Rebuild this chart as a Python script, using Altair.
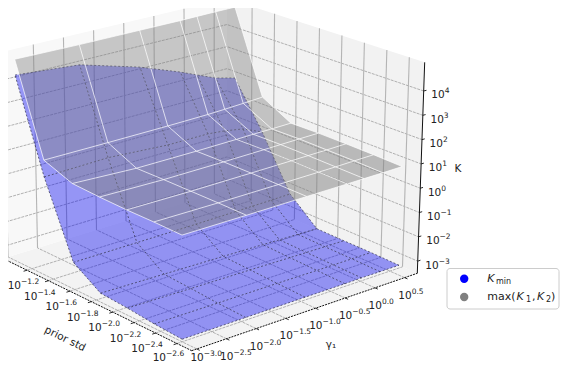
import altair as alt
import pandas as pd

# ---------- values ----------
gamma_grid = [-3.09, -2.02, -1.02, -0.35, -0.07, 0.24, 0.56]   # log10 gamma1
std_grid = [-2.65, -2.39, -2.14, -1.89, -1.64, -1.38, -1.13]   # log10 prior std

k_min = [  # log10 K_min, one row per std_grid entry
    [-3.24, -3.23, -3.22, -3.22, -3.21, -3.21, -3.21],
    [-3.17, -3.18, -3.18, -3.19, -3.19, -3.19, -3.19],
    [-3.06, -3.10, -3.13, -3.16, -3.17, -3.18, -3.19],
    [-2.98, -3.03, -3.08, -3.12, -3.14, -3.16, -3.18],
    [-2.26, -2.25, -2.24, -2.22, -2.21, -2.20, -2.18],
    [0.70, 0.77, 0.61, 0.61, 0.54, 0.40, 0.03],
    [4.49, 4.26, 3.52, 2.86, 2.54, 2.19, 1.97],
]
k_max = [  # log10 max(K1, K2)
    [0.63, 0.68, 0.74, 0.78, 0.80, 0.82, 0.85],
    [0.69, 0.72, 0.77, 0.81, 0.83, 0.86, 0.89],
    [0.73, 0.75, 0.80, 0.84, 0.86, 0.88, 0.91],
    [0.80, 0.78, 0.82, 0.86, 0.88, 0.90, 0.92],
    [0.90, 0.80, 0.82, 0.85, 0.87, 0.88, 0.90],
    [1.39, 1.40, 1.42, 1.45, 1.48, 1.52, 1.57],
    [5.15, 5.12, 5.12, 5.12, 5.13, 5.14, 5.14],
]
gamma_ticks = [-3.0, -2.5, -2.0, -1.5, -1.0, -0.5, 0.0, 0.5]
std_ticks = [-1.2, -1.4, -1.6, -1.8, -2.0, -2.2, -2.4, -2.6]
k_ticks = [-3, -2, -1, 0, 1, 2, 3, 4]

# ---------- 3D box projection (box corners on the page) ----------
CORNERS = {
    (0, 0, 0): (191.7, 350.7), (1, 0, 0): (417.3, 273.3),
    (0, 1, 0): (3.0, 258.5), (1, 1, 0): (227.0, 190.0),
    (0, 0, 1): (191.7, 115.7), (1, 0, 1): (424.7, 62.3),
    (0, 1, 1): (-2.0, 53.0), (1, 1, 1): (227.0, -1.5),
}


def fa(g):
    return (g + 3.086) * 0.2632


def fb(s):
    return (s + 2.737) * 0.568


def fc(z):
    return (z + 3.5) / 8.68


def proj(a, b, c):
    x = y = 0.0
    for (i, j, k), (px, py) in CORNERS.items():
        w = (a if i else 1 - a) * (b if j else 1 - b) * (c if k else 1 - c)
        x += w * px
        y += w * py
    return x, y


def rows_of(lines):
    rows = []
    for n, pts in enumerate(lines):
        for v, p in enumerate(pts):
            x, y = proj(*p)
            rows.append({"id": n, "v": v, "x": x, "y": y})
    return pd.DataFrame(rows)


xs = alt.Scale(domain=[8, 560], nice=False, zero=False)
ys = alt.Scale(domain=[362, 8], nice=False, zero=False)
X = alt.X("x:Q", scale=xs, axis=None)
Y = alt.Y("y:Q", scale=ys, axis=None)


def lines(ls, **mk):
    return alt.Chart(rows_of(ls)).mark_line(**mk).encode(X, Y, detail="id:N", order="v:Q")


def polys(ls, color, opacity):
    return lines(ls, interpolate="linear-closed", fill=color, fillOpacity=opacity,
                 stroke=color, strokeOpacity=0, strokeWidth=0)


def cells(grid, rows):
    out = []
    for j in rows:
        for i in range(len(gamma_grid) - 1):
            out.append([
                (fa(gamma_grid[i + p]), fb(std_grid[j + q]), fc(grid[j + q][i + p]))
                for p, q in [(0, 0), (1, 0), (1, 1), (0, 1)]
            ])
    return out


def wires(grid):
    out = []
    for j, s in enumerate(std_grid):
        out.append([(fa(g), fb(s), fc(grid[j][i])) for i, g in enumerate(gamma_grid)])
    for i, g in enumerate(gamma_grid):
        out.append([(fa(g), fb(s), fc(grid[j][i])) for j, s in enumerate(std_grid)])
    return out


layers = []
# panes
layers.append(polys([[(0, 0, 0), (1, 0, 0), (1, 1, 0), (0, 1, 0)]], "#f3f3f3", 1))
layers.append(polys([[(0, 1, 0), (1, 1, 0), (1, 1, 1), (0, 1, 1)]], "#f8f8f8", 1))
layers.append(polys([[(1, 0, 0), (1, 1, 0), (1, 1, 1), (1, 0, 1)]], "#f2f2f2", 1))

# grid lines
horiz = [[(0, 1, fc(z)), (1, 1, fc(z)), (1, 0, fc(z))] for z in k_ticks]
floor = [[(fa(g), 0, 0), (fa(g), 1, 0)] for g in gamma_ticks] + \
        [[(0, fb(s), 0), (1, fb(s), 0)] for s in std_ticks]
vert = [[(fa(g), 1, 0), (fa(g), 1, 1)] for g in gamma_ticks] + \
       [[(1, fb(s), 0), (1, fb(s), 1)] for s in std_ticks]
layers.append(lines(horiz, color="#a8a8a8", strokeWidth=0.9, strokeDash=[3, 1]))
layers.append(lines(floor, color="#a8a8a8", strokeWidth=0.9, strokeDash=[3, 1]))
layers.append(lines(vert, color="#b4b4b4", strokeWidth=1.1))

# axis lines and ticks
layers.append(lines([[(0, 0, 0), (1, 0, 0)], [(0, 0, 0), (0, 1, 0)]],
                    color="#111111", strokeWidth=1, strokeDash=[2, 1]))
layers.append(lines([[(1, 0, 0), (1, 0, 1)]], color="#111111", strokeWidth=1))
tick_segs = [[(1, 0, fc(z)), (1.012, 0, fc(z))] for z in k_ticks] + \
            [[(fa(g), 0, 0), (fa(g), -0.015, 0)] for g in gamma_ticks] + \
            [[(0, fb(s), 0), (-0.015, fb(s), 0)] for s in std_ticks]
layers.append(lines(tick_segs, color="#111111", strokeWidth=0.9))

# surfaces
layers.append(polys(cells(k_min, range(6)), "#0000f0", 0.4))
layers.append(lines(wires(k_min), color="#22223c", strokeWidth=0.8, strokeDash=[2, 2], strokeOpacity=0.8))
layers.append(polys(cells(k_max, range(4)), "#808080", 0.5))
layers.append(polys(cells(k_max, [4, 5]), "#808080", 0.42))
layers.append(lines(wires(k_max), color="#ffffff", strokeWidth=1, strokeOpacity=0.7))


# tick labels: "10" plus a smaller exponent (kept inside the drawable page area)
def tick_labels(items):
    rows = []
    for (p, dx, dy, exp) in items:
        x, y = proj(*p)
        rows.append({"x": max(x + dx - 2, 21.0), "y": min(y + dy, 356.5), "exp": exp})
    return pd.DataFrame(rows)


def fmt(v, digits):
    return f"{v:.{digits}f}".replace("-", "\u2212")


lab = tick_labels(
    [((fa(g), 0, 0), 9, 17, fmt(g, 1)) for g in gamma_ticks]
    + [((0, fb(s), 0), -9, 15, fmt(s, 1)) for s in std_ticks]
    + [((1, 0, fc(z)), 23, 3.5, fmt(z, 0)) for z in k_ticks]
)
layers.append(
    alt.Chart(lab).transform_calculate(py="datum.y + 1")
    .mark_text(text="10", font="DejaVu Sans", fontSize=10.5, align="right", baseline="middle", color="#222222")
    .encode(X, alt.Y("py:Q", scale=ys, axis=None))
)
layers.append(
    alt.Chart(lab).transform_calculate(py="datum.y - 3")
    .mark_text(font="DejaVu Sans", fontSize=7.5, align="left", baseline="middle", color="#222222")
    .encode(X, alt.Y("py:Q", scale=ys, axis=None), text="exp:N")
)


# free text pieces
def text_layer(rows, **mk):
    base = dict(font="DejaVu Sans", align="left", baseline="middle", color="#222222")
    base.update(mk)
    return alt.Chart(pd.DataFrame(rows)).mark_text(**base).encode(X, Y, text="t:N")


layers.append(text_layer([{"x": 65, "y": 339, "t": "prior std"}], fontSize=10.5, angle=26, align="center"))
layers.append(text_layer([{"x": 331, "y": 345, "t": "\u03b3\u2081"}], fontSize=10.5, align="center"))
layers.append(text_layer([{"x": 458, "y": 169, "t": "K"}], fontSize=10.5, align="center"))

# legend
LX = -7.5
layers.append(
    alt.Chart(pd.DataFrame([{"x": 454.5 + LX, "x2": 566.5 + LX, "y": 268.5, "y2": 309}]))
    .mark_rect(fill="#ffffff", stroke="#cccccc", strokeWidth=1, cornerRadius=3)
    .encode(X, alt.X2("x2:Q"), Y, alt.Y2("y2:Q"))
)
legend_names = ["K_min", "max(K1,K2)"]
legend_colors = ["#0000ff", "#808080"]
layers.append(
    alt.Chart(pd.DataFrame({"x": [471.7 + LX, 471.7 + LX], "y": [278.7, 297], "n": legend_names}))
    .mark_point(filled=True, size=70, opacity=1)
    .encode(X, Y, color=alt.Color("n:N", scale=alt.Scale(domain=legend_names, range=legend_colors), legend=None))
)
layers.append(text_layer([
    {"x": 494.7 + LX, "y": 278.5, "t": "K"}, {"x": 524 + LX, "y": 297, "t": "K"}, {"x": 544.5 + LX, "y": 297, "t": "K"},
], fontSize=11, fontStyle="italic"))
layers.append(text_layer([
    {"x": 494.7 + LX, "y": 297, "t": "max("}, {"x": 539.5 + LX, "y": 297, "t": ","}, {"x": 558.5 + LX, "y": 297, "t": ")"},
], fontSize=11))
layers.append(text_layer([
    {"x": 503.5 + LX, "y": 282, "t": "min"}, {"x": 533.5 + LX, "y": 300, "t": "1"}, {"x": 553.5 + LX, "y": 300, "t": "2"},
], fontSize=8))

chart = (
    alt.layer(*layers)
    .properties(width=552, height=354, padding=0, autosize=alt.AutoSizeParams(type="none"), background="#ffffff")
    .configure_view(stroke=None)
)
chart.save("out.html", embed_options={"renderer": "svg", "actions": False})
